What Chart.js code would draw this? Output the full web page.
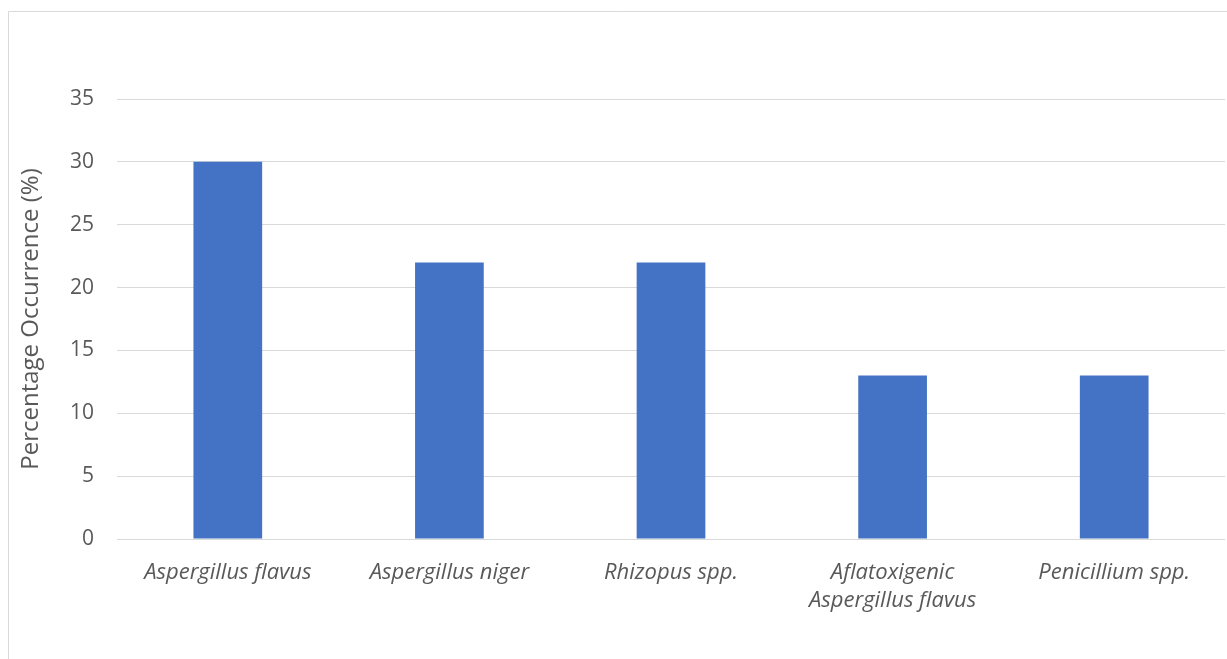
<!DOCTYPE html>
<html>
<head>
<meta charset="utf-8">
<script src="https://cdn.jsdelivr.net/npm/chart.js@4/dist/chart.umd.min.js"></script>
<style>
  html, body { margin: 0; padding: 0; background: #ffffff; }
  #wrap { position: relative; width: 1227px; height: 659px; }
</style>
</head>
<body>
<div id="wrap"><canvas id="chart" width="1227" height="659"></canvas></div>
<script>
// Fungal isolates and how often each was found
const categories = [
  'Aspergillus flavus',
  'Aspergillus niger',
  'Rhizopus spp.',
  ['Aflatoxigenic', 'Aspergillus flavus'],
  'Penicillium spp.'
];
const occurrence = [30, 22, 22, 13, 13];
const yTicks = [0, 5, 10, 15, 20, 25, 30, 35];

const textColor = '#595959';
const gridColor = '#d9d9d9';
const fontFamily = '"Open Sans", "Liberation Sans", sans-serif';

// Thin frame along the left and top edges of the chart
const framePlugin = {
  id: 'frame',
  beforeDraw(chart) {
    const ctx = chart.ctx;
    ctx.save();
    ctx.fillStyle = '#ffffff';
    ctx.fillRect(0, 0, chart.width, chart.height);
    ctx.strokeStyle = gridColor;
    ctx.lineWidth = 1;
    ctx.beginPath();
    ctx.moveTo(8.5, chart.height);
    ctx.lineTo(8.5, 11.5);
    ctx.lineTo(chart.width, 11.5);
    ctx.stroke();
    ctx.restore();
  }
};

new Chart(document.getElementById('chart'), {
  type: 'bar',
  data: {
    labels: categories,
    datasets: [{
      data: occurrence,
      backgroundColor: '#4472c4',
      borderWidth: 0,
      categoryPercentage: 1,
      barPercentage: 0.31
    }]
  },
  options: {
    responsive: false,
    animation: false,
    layout: { padding: { top: 99, right: 2, left: 0, bottom: 0 } },
    plugins: {
      legend: { display: false },
      tooltip: { enabled: false }
    },
    scales: {
      x: {
        grid: { display: false },
        border: { display: false },
        ticks: {
          color: textColor,
          maxRotation: 0,
          autoSkip: false,
          padding: 11,
          font: { family: fontFamily, size: 22, style: 'italic', lineHeight: 1.3 }
        },
        afterFit(scale) { scale.height = 120; }
      },
      y: {
        min: 0,
        max: 35,
        afterBuildTicks(scale) { scale.ticks = yTicks.map(v => ({ value: v })); },
        grid: { color: gridColor, lineWidth: 1, drawTicks: false },
        border: { display: false },
        ticks: {
          color: textColor,
          padding: 23,
          font: { family: fontFamily, size: 21 }
        },
        title: {
          display: true,
          text: 'Percentage Occurrence (%)',
          color: textColor,
          font: { family: fontFamily, size: 24 },
          padding: { top: 17, bottom: 0 }
        },
        afterFit(scale) { scale.width = 117; }
      }
    }
  },
  plugins: [framePlugin]
});
</script>
</body>
</html>
